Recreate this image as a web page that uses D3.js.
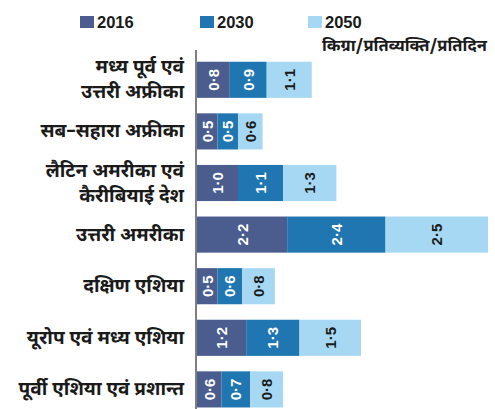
<!DOCTYPE html>
<html>
<head>
<meta charset="utf-8">
<script src="https://cdn.jsdelivr.net/npm/d3@7"></script>
<style>
  html, body { margin: 0; padding: 0; background: #ffffff; }
  svg { display: block; }
</style>
</head>
<body>
<svg id="chart" width="495" height="409"></svg>
<script>
// Per-capita food waste by region (kg/person/day)
const regions = [
  ["मध्य पूर्व एवं", "उत्तरी अफ्रीका"],
  ["सब–सहारा अफ्रीका"],
  ["लैटिन अमरीका एवं", "कैरीबियाई देश"],
  ["उत्तरी अमरीका"],
  ["दक्षिण एशिया"],
  ["यूरोप एवं मध्य एशिया"],
  ["पूर्वी एशिया एवं प्रशान्त"]
];
const years = ["2016", "2030", "2050"];
const values2016 = [0.8, 0.5, 1.0, 2.2, 0.5, 1.2, 0.6];
const values2030 = [0.9, 0.5, 1.1, 2.4, 0.6, 1.3, 0.7];
const values2050 = [1.1, 0.6, 1.3, 2.5, 0.8, 1.5, 0.8];
const unitLabel = "किग्रा/प्रतिव्यक्ति/प्रतिदिन";

const colors = ["#4a5d8e", "#1f76b1", "#a6d8f3"];
const textColors = ["#ffffff", "#ffffff", "#1a1a1a"];
const hindiFont = "'Noto Sans Devanagari', 'Lohit Devanagari', 'Noto Sans', sans-serif";
const latinFont = "Arial, 'Liberation Sans', sans-serif";

const svg = d3.select("#chart");
const margin = { left: 197, top: 54 };

const rows = regions.map((r, i) => ({
  index: i,
  label: r,
  vals: [values2016[i], values2030[i], values2050[i]]
}));

const x = d3.scaleLinear().domain([0, 7.1]).range([margin.left, 488]);
const y = d3.scaleBand()
  .domain(d3.range(regions.length))
  .range([margin.top, margin.top + 51.6 * regions.length])
  .paddingInner(0.3)
  .paddingOuter(0.15);

const fmt = v => d3.format(".1f")(v).replace(".", "·");

// Bars: each row stacks 2016, 2030 and 2050 end to end
const rowG = svg.append("g").selectAll("g")
  .data(rows)
  .join("g")
  .attr("transform", d => `translate(0,${y(d.index)})`);

rowG.each(function (d) {
  const g = d3.select(this);
  let start = 0;
  d.vals.forEach((v, k) => {
    const x0 = x(start), x1 = x(start + v);
    g.append("rect")
      .attr("x", x0)
      .attr("y", 0)
      .attr("width", x1 - x0)
      .attr("height", y.bandwidth())
      .attr("fill", colors[k]);
    g.append("text")
      .attr("transform", `translate(${(x0 + x1) / 2 + 5.5},${y.bandwidth() / 2}) rotate(-90)`)
      .attr("text-anchor", "middle")
      .attr("fill", textColors[k])
      .attr("font-family", latinFont)
      .attr("font-weight", "bold")
      .attr("font-size", 15)
      .text(fmt(v));
    start += v;
  });
});

// Region labels on the left
const labels = svg.append("g").selectAll("text")
  .data(rows)
  .join("text")
  .attr("text-anchor", "end")
  .attr("font-family", hindiFont)
  .attr("font-weight", "bold")
  .attr("font-size", 19)
  .attr("fill", "#1a1a1a");

labels.each(function (d) {
  const t = d3.select(this);
  const cy = y(d.index) + y.bandwidth() / 2;
  const lh = 25;
  const n = d.label.length;
  d.label.forEach((line, i) => {
    t.append("tspan")
      .attr("x", 184)
      .attr("y", cy + (i - (n - 1) / 2) * lh + 6)
      .text(line);
  });
});

// Vertical axis line
svg.append("line")
  .attr("x1", 196).attr("x2", 196)
  .attr("y1", 50).attr("y2", 409)
  .attr("stroke", "#555")
  .attr("stroke-width", 1.5);

// Legend
const legendX = [80, 200, 308];
const legend = svg.append("g").selectAll("g")
  .data(years)
  .join("g")
  .attr("transform", (d, i) => `translate(${legendX[i]},16)`);
legend.append("rect")
  .attr("width", 14).attr("height", 12)
  .attr("fill", (d, i) => colors[i]);
legend.append("text")
  .attr("x", 17).attr("y", 12)
  .attr("font-family", latinFont)
  .attr("font-weight", "bold")
  .attr("font-size", 16.5)
  .attr("fill", "#1a1a1a")
  .text(d => d);

// Unit note
svg.append("text")
  .attr("x", 322).attr("y", 51)
  .attr("font-family", hindiFont)
  .attr("font-weight", "bold")
  .attr("font-size", 16.5)
  .attr("fill", "#1a1a1a")
  .text(unitLabel);
</script>
</body>
</html>
